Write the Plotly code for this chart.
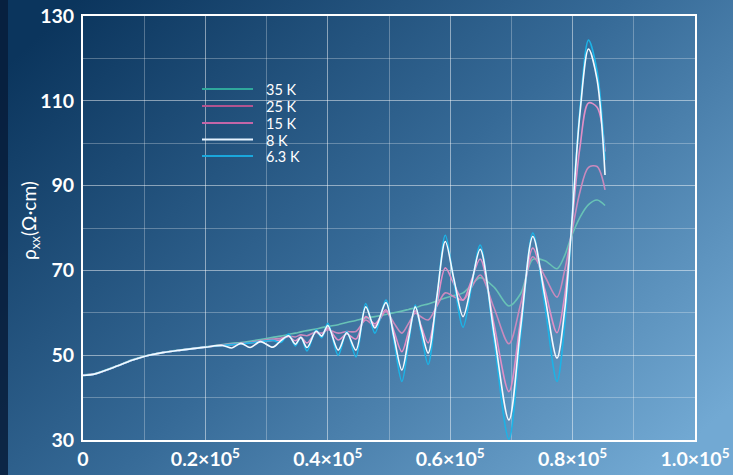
import base64
import plotly.graph_objects as go

# Magnetic field in units of 10^5
field = [0, 0.02, 0.05, 0.08, 0.10, 0.13, 0.16, 0.20, 0.228, 0.243, 0.258, 0.273, 0.29, 0.31,
         0.323, 0.336, 0.347, 0.356, 0.366, 0.381, 0.39, 0.40, 0.417, 0.431, 0.446, 0.462, 0.477, 0.495,
         0.508, 0.521, 0.532, 0.543, 0.553, 0.564, 0.578, 0.592, 0.606, 0.621, 0.635, 0.649, 0.672, 0.696,
         0.715, 0.735, 0.755, 0.7745, 0.787, 0.797, 0.812, 0.826, 0.84, 0.853]

rho_35K = [45.4, 45.7, 47.2, 48.9, 49.8, 50.7, 51.3, 52.0, 52.5, 52.8, 53.0, 53.3, 53.7, 54.2,
           54.5, 54.9, 55.2, 55.5, 55.8, 56.2, 56.5, 56.8, 57.2, 57.7, 58.2, 58.8, 59.1, 59.6,
           60.0, 60.4, 60.8, 61.2, 61.7, 62.1, 62.8, 63.5, 64.1, 64.7, 66.6, 68.3, 66.0, 61.6,
           64.5, 72.6, 72.3, 70.4, 73.5, 77.6, 82.5, 85.5, 86.6, 85.3]
rho_25K = [45.3, 45.6, 47.1, 48.8, 49.7, 50.6, 51.2, 51.9, 52.4, 52.6, 52.8, 53.0, 53.4, 53.8,
           54.0, 54.5, 54.3, 54.8, 54.6, 55.5, 55.2, 56.0, 55.2, 55.6, 55.6, 58.3, 56.9, 60.3,
           57.6, 55.2, 57.5, 59.9, 59.0, 58.3, 61.5, 64.7, 63.8, 63.0, 66.0, 68.9, 61.0, 52.7,
           62.0, 73.2, 68.5, 63.7, 70.0, 77.5, 88.5, 94.3, 94.5, 89.0]
rho_15K = [45.3, 45.6, 47.1, 48.8, 49.7, 50.6, 51.2, 51.9, 52.3, 52.5, 52.7, 52.9, 53.2, 53.5,
           53.6, 54.4, 53.4, 54.3, 52.9, 55.4, 54.6, 56.4, 53.6, 55.0, 53.8, 59.1, 57.4, 60.7,
           55.7, 50.8, 55.6, 60.5, 56.7, 52.9, 61.8, 70.6, 66.8, 63.0, 67.8, 72.7, 57.0, 41.4,
           58.3, 75.3, 65.3, 55.3, 64.0, 78.0, 99.0, 109.5, 108.5, 98.0]
rho_8K = [45.2, 45.6, 47.1, 48.8, 49.7, 50.6, 51.2, 51.9, 52.3, 51.7, 52.8, 51.8, 53.2, 51.9,
          53.4, 54.6, 52.6, 54.2, 51.8, 55.7, 54.5, 57.0, 51.2, 55.3, 51.2, 61.4, 56.4, 62.4,
          54.4, 46.5, 54.0, 61.4, 56.0, 50.5, 63.6, 76.8, 68.0, 59.1, 67.0, 75.0, 54.8, 34.7,
          56.4, 78.0, 63.6, 49.3, 60.5, 77.8, 107.0, 122.2, 115.0, 92.5]
rho_6K = [45.2, 45.6, 47.1, 48.8, 49.7, 50.6, 51.2, 51.9, 52.3, 52.5, 52.7, 52.9, 53.2, 53.5,
          53.0, 55.0, 52.2, 54.3, 51.0, 56.0, 54.1, 57.5, 50.0, 55.6, 49.6, 62.2, 55.2, 63.0,
          53.4, 43.8, 52.8, 61.8, 54.8, 47.8, 63.0, 78.3, 67.5, 56.6, 66.3, 76.0, 53.0, 30.2,
          54.5, 78.8, 61.3, 43.8, 57.0, 77.5, 108.0, 124.3, 117.0, 96.0]

x_tickvals = [0, 0.2, 0.4, 0.6, 0.8, 1.0]
x_ticktext = ["0", "0.2×10<sup>5</sup>", "0.4×10<sup>5</sup>", "0.6×10<sup>5</sup>",
              "0.8×10<sup>5</sup>", "1.0×10<sup>5</sup>"]
y_tickvals = [30, 50, 70, 90, 110, 130]

legend_labels = ["35 K", "25 K", "15 K", "8 K", "6.3 K"]
legend_colors = ["#2fa89c", "#b2548f", "#c466a8", "#e6f3ff", "#1aa7dc"]

# (label, values, line colour) in drawing order
series = [
    ("35 K", rho_35K, "#68c2b6"),
    ("25 K", rho_25K, "#c98abd"),
    ("15 K", rho_15K, "#e08fc6"),
    ("6.3 K", rho_6K, "#1cb3e6"),
    ("8 K", rho_8K, "#f4faff"),
]

fig = go.Figure()
for name, vals, color in series:
    fig.add_trace(go.Scatter(
        x=field, y=vals, name=name, mode="lines", showlegend=False,
        line=dict(color=color, width=1.6, shape="spline", smoothing=0.9),
    ))

W, H = 733, 475
L, R, T, B = 83, 38, 16, 35
PW, PH = W - L - R, H - T - B


def px_x(px):
    return (px - L) / PW


def px_y(py):
    return 1 - (py - T) / PH


# Hand-drawn legend (line samples + labels)
row_y = [89, 106, 123, 139.5, 156]
for lab, col, ry in zip(legend_labels, legend_colors, row_y):
    fig.add_shape(type="line", xref="paper", yref="paper",
                  x0=px_x(202), x1=px_x(253), y0=px_y(ry), y1=px_y(ry),
                  line=dict(color=col, width=2.2))
    fig.add_annotation(xref="paper", yref="paper", x=px_x(265), y=px_y(ry),
                       text=lab, showarrow=False, xanchor="left", yanchor="middle",
                       height=16, borderpad=0,
                       font=dict(family="Lato, Open Sans, sans-serif", size=14.5, color="white"))

# Y-axis title drawn as rotated text
fig.add_annotation(xref="paper", yref="paper", x=px_x(30), y=px_y(221),
                   text="ρ<sub>xx</sub>(Ω·cm)", showarrow=False, textangle=-90,
                   xanchor="center", yanchor="middle",
                   font=dict(family="Lato, Open Sans, sans-serif", size=19, color="white"))

svg = """<svg xmlns='http://www.w3.org/2000/svg' width='733' height='475' viewBox='0 0 733 475' preserveAspectRatio='none'>
<defs><linearGradient id='g' x1='0' y1='0.15' x2='1' y2='0.85'>
<stop offset='0' stop-color='#0b355d'/><stop offset='0.5' stop-color='#366a97'/><stop offset='1' stop-color='#72a9d3'/>
</linearGradient></defs>
<rect width='733' height='475' fill='url(#g)'/>
<rect width='8' height='475' fill='#071c3a' opacity='0.85'/>
</svg>"""
src = "data:image/svg+xml;base64," + base64.b64encode(svg.encode()).decode()

fig.add_layout_image(dict(
    source=src, xref="paper", yref="paper",
    x=-L / PW, y=1 + T / PH, sizex=W / PW, sizey=H / PH,
    xanchor="left", yanchor="top", sizing="stretch", layer="below",
))

grid = "rgba(255,255,255,0.28)"
tickfont = dict(family="Lato, Open Sans, sans-serif", size=19.5, color="white", weight="bold")

fig.update_layout(
    width=W, height=H,
    margin=dict(l=L, r=R, t=T, b=B, pad=0, autoexpand=False),
    paper_bgcolor="#3f74a2", plot_bgcolor="rgba(0,0,0,0)",
    showlegend=False,
    xaxis=dict(range=[0, 1.0], tickvals=x_tickvals, ticktext=x_ticktext, automargin=False,
               showgrid=True, gridcolor=grid, gridwidth=1,
               minor=dict(dtick=0.1, tick0=0, showgrid=True, gridcolor=grid, gridwidth=1),
               showline=True, linecolor="white", linewidth=2, mirror=True,
               zeroline=False, tickfont=tickfont, ticks="", ticklabelstandoff=1),
    yaxis=dict(range=[30, 130], tickvals=y_tickvals, automargin=False,
               showgrid=True, gridcolor=grid, gridwidth=1,
               minor=dict(dtick=10, tick0=30, showgrid=True, gridcolor=grid, gridwidth=1),
               showline=True, linecolor="white", linewidth=2, mirror=True,
               zeroline=False, tickfont=tickfont, ticks="", ticklabelstandoff=3),
)

fig.write_html("out.html", config={"displayModeBar": False},
               post_script="document.body.style.margin='0';document.body.style.overflow='hidden';")
